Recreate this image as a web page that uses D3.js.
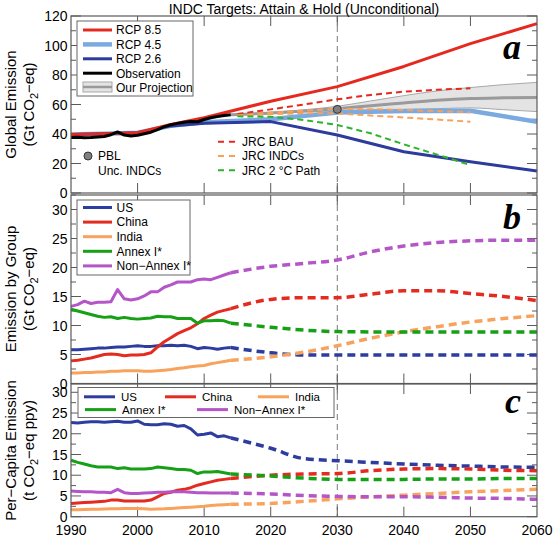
<!DOCTYPE html>
<html><head><meta charset="utf-8">
<script src="https://cdn.jsdelivr.net/npm/d3@7"></script>
<style>body{margin:0;background:#fff}text{font-family:"Liberation Sans",Arial,Helvetica,sans-serif;fill:#000}</style>
</head><body><svg id="c" width="553" height="538"></svg>
<script>
// ---------- DATA ----------
const histYears = d3.range(1990, 2015);
const obs = [37.7,37.8,37.4,37.6,38.0,38.3,39.5,41.4,39.3,38.7,39.2,40.2,41.2,43.0,45.0,46.3,47.2,48.0,48.5,48.3,49.8,51.0,51.8,52.5,53.0];

const rcpYears = [1990,1995,2000,2005,2010,2020,2030,2040,2050,2060];
const rcp85 = [39.6,40.2,40.8,46.5,51.0,62.2,72.1,85.8,101.3,114.8];
const rcp45 = [39.6,40.2,40.8,45.5,48.0,50.0,54.5,55.6,55.8,48.3];
const rcp26 = [39.6,40.2,40.8,45.5,47.3,48.4,39.3,28.0,21.2,14.9];

const projYears = [2014,2020,2025,2030,2035,2040,2045,2050,2055,2060];
const projMid = [53.0,54.2,55.6,57.2,59.2,61.0,62.8,64.0,64.5,64.8];
const projLow = [53.0,53.8,54.9,55.8,56.3,56.6,57.2,57.7,56.5,55.2];
const projHigh = [53.0,54.5,56.4,58.8,62.4,66.0,69.2,71.5,73.5,75.0];

const pblYear = 2030, pblValue = 56.7;

const jrcYears = [2015,2020,2025,2030,2035,2040,2045,2050];
const jrcBAU = [53.5,56.7,60.0,63.5,66.5,68.7,70.0,71.0];
const jrcINDCHigh = [52.5,54.5,55.8,57.0,56.8,56.3,55.5,54.7];
const jrcINDCLow = [52.5,53.5,54.0,54.0,52.5,51.2,49.8,48.3];
const jrc2C = [52.0,51.7,49.5,46.1,40.5,33.0,26.0,19.0];

const futYears = [2014,2020,2025,2030,2035,2040,2045,2050,2055,2060];

// panel b: emission by group (Gt CO2-eq)
const bUS = [5.8,5.8,5.9,6.0,6.1,6.1,6.2,6.3,6.3,6.4,6.5,6.4,6.4,6.5,6.5,6.6,6.5,6.6,6.4,6.0,6.2,6.1,5.9,6.1,6.2];
const bChina = [3.9,4.0,4.2,4.4,4.7,5.0,5.1,5.0,4.8,4.9,4.9,5.0,5.3,6.3,7.2,7.9,8.6,9.1,9.6,10.3,11.2,11.8,12.3,12.6,12.9];
const bIndia = [1.8,1.8,1.9,1.9,2.0,2.0,2.1,2.1,2.2,2.2,2.2,2.1,2.1,2.2,2.3,2.4,2.6,2.7,2.9,3.0,3.1,3.4,3.6,3.8,4.0];
const bAnnex = [12.8,12.5,12.2,11.9,11.6,11.4,11.5,11.2,11.4,11.2,11.1,11.2,11.3,11.6,11.5,11.5,11.2,11.2,11.2,10.4,10.8,10.8,10.9,10.8,10.4];
const bNonAnnex = [13.3,13.6,14.2,13.8,14.0,14.0,14.1,16.2,14.6,14.4,14.6,15.1,15.8,15.8,16.6,17.0,17.5,17.5,17.5,17.9,18.0,17.9,18.3,18.7,19.1];
const bUSf = [6.2,5.3,4.9,4.9,4.9,4.9,4.9,4.9,4.9,4.9];
const bChinaf = [12.9,14.5,14.8,14.8,15.4,16.0,16.0,15.5,15.0,14.3];
const bIndiaf = [4.0,4.6,5.4,6.5,7.8,8.9,9.8,10.6,11.2,11.7];
const bAnnexf = [10.4,9.7,9.2,8.95,8.9,8.9,8.9,8.9,8.9,8.9];
const bNonAnnexf = [19.1,20.2,20.7,21.3,22.7,23.7,24.3,24.6,24.7,24.7];

// panel c: per-capita emission (t CO2-eq ppy)
const cUS = [22.7,22.6,22.8,22.9,22.9,22.8,22.9,23.0,22.8,22.8,23.1,22.3,22.2,22.2,22.4,22.3,21.8,22.0,21.2,19.7,19.9,20.2,19.3,19.5,19.0];
const cChina = [3.2,3.3,3.4,3.5,3.6,3.7,4.0,4.0,3.8,3.8,3.8,3.8,4.0,4.8,5.6,5.9,6.4,6.6,7.0,7.6,8.0,8.4,8.8,9.0,9.2];
const cIndia = [1.7,1.7,1.75,1.8,1.8,1.85,1.9,1.9,1.95,2.0,2.0,1.9,1.8,1.85,1.9,2.0,2.1,2.2,2.3,2.4,2.5,2.7,2.8,2.9,3.0];
const cAnnex = [13.6,13.1,12.7,12.3,12.0,12.0,12.0,11.6,11.8,11.5,11.5,11.5,11.6,12.0,11.8,11.6,11.4,11.4,11.2,10.4,10.8,10.8,10.9,10.6,10.3];
const cNonAnnex = [6.2,6.1,6.0,6.0,5.9,5.9,5.8,6.6,5.8,5.6,5.6,5.7,5.8,5.9,5.9,6.0,6.0,6.0,5.9,5.8,5.8,5.7,5.7,5.7,5.7];
const cUSf = [19.0,16.5,14.0,13.5,13.1,12.7,12.4,12.2,12.0,11.9];
const cChinaf = [9.2,10.0,10.3,10.4,11.1,11.5,11.6,11.5,11.2,11.1];
const cIndiaf = [3.0,3.2,3.7,4.3,4.8,5.2,5.6,6.0,6.3,6.6];
const cAnnexf = [10.3,9.8,9.3,9.0,9.0,9.0,9.1,9.1,9.2,9.2];
const cNonAnnexf = [5.7,5.5,5.1,4.9,4.8,4.8,4.7,4.5,4.4,4.2];

const xTicks = [1990,2000,2010,2020,2030,2040,2050,2060];
const aTicks = [0,20,40,60,80,100,120];
const bTicks = [0,5,10,15,20,25,30];
const cTicks = [0,5,10,15,20,25,30];

// ---------- STYLE ----------
const C = {red:"#e5291f", lblue:"#7aaadf", dblue:"#2c3b9c", green:"#2ab42a", orange:"#f8a15a",
  gUS:"#2d3d9f", gChina:"#e42b20", gIndia:"#f8a35d", gAnnex:"#16a016", gNon:"#b556c8", frame:"#5a5a5a"};

const svg = d3.select("#c");
const x = d3.scaleLinear().domain([1990,2060]).range([71,537]);
const X0 = 71, X1 = 537;

function panel(y, top, bottom, majors, minorStep, maxV) {
  const g = svg.append("g");
  g.append("line").attr("x1", x(2030)).attr("x2", x(2030)).attr("y1", top).attr("y2", bottom)
    .attr("stroke", "#7a7a7a").attr("stroke-width", 1).attr("stroke-dasharray", "6,4");
  const minors = d3.range(0, maxV + 0.001, minorStep).filter(v => !majors.includes(v));
  majors.forEach(v => {
    g.append("line").attr("x1", X0).attr("x2", X0 + 10).attr("y1", y(v)).attr("y2", y(v)).attr("stroke", C.frame);
    g.append("line").attr("x1", X1).attr("x2", X1 - 10).attr("y1", y(v)).attr("y2", y(v)).attr("stroke", C.frame);
    g.append("text").attr("x", 67.5).attr("y", y(v)).attr("dy", "0.36em").attr("text-anchor", "end")
      .attr("font-size", 14).text(v);
  });
  minors.forEach(v => {
    g.append("line").attr("x1", X0).attr("x2", X0 + 5).attr("y1", y(v)).attr("y2", y(v)).attr("stroke", C.frame);
    g.append("line").attr("x1", X1).attr("x2", X1 - 5).attr("y1", y(v)).attr("y2", y(v)).attr("stroke", C.frame);
  });
  xTicks.slice(1, -1).forEach(t => {
    g.append("line").attr("x1", x(t)).attr("x2", x(t)).attr("y1", top).attr("y2", top + 10).attr("stroke", C.frame);
    g.append("line").attr("x1", x(t)).attr("x2", x(t)).attr("y1", bottom).attr("y2", bottom - 10).attr("stroke", C.frame);
  });
  return g;
}
function frame(top, bottom) {
  svg.append("rect").attr("x", X0).attr("y", top).attr("width", X1 - X0).attr("height", bottom - top)
    .attr("fill", "none").attr("stroke", C.frame).attr("stroke-width", 1.2);
}
let curY;
function path(g, xs, ys, color, w, dash, curve) {
  const line = d3.line().x((d, i) => x(xs[i])).y(d => curY(d)).curve(curve || d3.curveLinear);
  const p = g.append("path").attr("d", line(ys)).attr("fill", "none").attr("stroke", color)
    .attr("stroke-width", w).attr("stroke-linejoin", "round");
  if (dash) p.attr("stroke-dasharray", dash);
  return p;
}
function ylabel(cy, l1, pre, post, x1, x2) {
  svg.append("text").attr("transform", `translate(${x1},${cy}) rotate(-90)`).attr("text-anchor", "middle")
    .attr("font-size", 15).text(l1);
  const t = svg.append("text").attr("transform", `translate(${x2},${cy}) rotate(-90)`).attr("text-anchor", "middle")
    .attr("font-size", 15);
  t.append("tspan").text(pre);
  t.append("tspan").attr("font-size", 11).attr("dy", 4).text("2");
  t.append("tspan").attr("dy", -4).text(post);
}
function letter(t, yb) {
  svg.append("text").attr("x", 521).attr("y", yb).attr("text-anchor", "end")
    .attr("font-weight", "bold").attr("font-style", "italic").attr("font-size", 36)
    .style("font-family", "'Liberation Serif','Times New Roman',serif").text(t);
}

// ---------- PANEL A ----------
const ya = d3.scaleLinear().domain([0,120]).range([193,16]);
const ga = panel(ya, 16, 193, aTicks, 10, 120);
curY = ya;
const area = d3.area().x((d, i) => x(projYears[i])).y0((d, i) => ya(projLow[i])).y1(d => ya(d)).curve(d3.curveMonotoneX);
ga.append("path").attr("d", area(projHigh)).attr("fill", "#e4e4e4").attr("stroke", "none");
path(ga, projYears, projHigh, "#a8a8a8", 1, null, d3.curveMonotoneX);
path(ga, projYears, projLow, "#a8a8a8", 1, null, d3.curveMonotoneX);
path(ga, projYears, projMid, "#9a9a9a", 3, null, d3.curveMonotoneX);
path(ga, rcpYears, rcp45, C.lblue, 4.5);
path(ga, rcpYears, rcp26, C.dblue, 3);
path(ga, rcpYears, rcp85, C.red, 3);
path(ga, jrcYears, jrcBAU, C.red, 2, "6,4");
path(ga, jrcYears, jrcINDCHigh, C.orange, 2, "6,4");
path(ga, jrcYears, jrcINDCLow, C.orange, 2, "6,4");
path(ga, jrcYears, jrc2C, C.green, 2, "6,4");
path(ga, histYears, obs, "#000", 3);
ga.append("circle").attr("cx", x(pblYear)).attr("cy", ya(pblValue)).attr("r", 4)
  .attr("fill", "#808080").attr("stroke", "#333").attr("stroke-width", 1);
frame(16, 193);

// legend a
const la = svg.append("g");
la.append("rect").attr("x", 77).attr("y", 21).attr("width", 116).attr("height", 75).attr("fill", "#fff").attr("stroke", "#666");
const laItems = [["RCP 8.5", C.red, 3], ["RCP 4.5", C.lblue, 4.5], ["RCP 2.6", C.dblue, 3], ["Observation", "#000", 3]];
laItems.forEach((d, i) => {
  const yy = 30 + i * 14.4;
  la.append("line").attr("x1", 83).attr("x2", 112).attr("y1", yy).attr("y2", yy).attr("stroke", d[1]).attr("stroke-width", d[2]);
  la.append("text").attr("x", 116).attr("y", yy).attr("dy", "0.36em").attr("font-size", 12).text(d[0]);
});
la.append("rect").attr("x", 83).attr("y", 82).attr("width", 29).attr("height", 10).attr("fill", "#e4e4e4").attr("stroke", "#a8a8a8");
la.append("line").attr("x1", 83).attr("x2", 112).attr("y1", 87).attr("y2", 87).attr("stroke", "#9a9a9a").attr("stroke-width", 2.5);
la.append("text").attr("x", 116).attr("y", 87.5).attr("dy", "0.36em").attr("font-size", 12).text("Our Projection");
la.append("circle").attr("cx", 88).attr("cy", 156).attr("r", 4).attr("fill", "#808080").attr("stroke", "#333");
la.append("text").attr("x", 98).attr("y", 156).attr("dy", "0.36em").attr("font-size", 12).text("PBL");
la.append("text").attr("x", 98).attr("y", 170.5).attr("dy", "0.36em").attr("font-size", 12).text("Unc. INDCs");
[["JRC BAU", C.red], ["JRC INDCs", C.orange], ["JRC 2 \u00B0C Path", C.green]].forEach((d, i) => {
  const yy = 141.7 + i * 14.3;
  la.append("line").attr("x1", 218).attr("x2", 236).attr("y1", yy).attr("y2", yy).attr("stroke", d[1])
    .attr("stroke-width", 2).attr("stroke-dasharray", "6,5");
  la.append("text").attr("x", 242).attr("y", yy).attr("dy", "0.36em").attr("font-size", 12).text(d[0]);
});

// ---------- PANEL B ----------
const yb = d3.scaleLinear().domain([0,32.5]).range([383.5,195]);
const gb = panel(yb, 195, 383.5, bTicks, 2.5, 32.5);
curY = yb;
const dashF = "8,5";
[[bUS,bUSf,C.gUS],[bChina,bChinaf,C.gChina],[bIndia,bIndiaf,C.gIndia],[bAnnex,bAnnexf,C.gAnnex],[bNonAnnex,bNonAnnexf,C.gNon]].forEach(s => {
  path(gb, histYears, s[0], s[2], 3);
  path(gb, futYears, s[1], s[2], 3.5, dashF, d3.curveMonotoneX);
});
frame(195, 383.5);
const lb = svg.append("g");
lb.append("rect").attr("x", 77).attr("y", 200).attr("width", 113).attr("height", 75).attr("fill", "#fff").attr("stroke", "#666");
[["US", C.gUS], ["China", C.gChina], ["India", C.gIndia], ["Annex I*", C.gAnnex], ["Non\u2212Annex I*", C.gNon]].forEach((d, i) => {
  const yy = 207.5 + i * 14.6;
  lb.append("line").attr("x1", 83).attr("x2", 112).attr("y1", yy).attr("y2", yy).attr("stroke", d[1]).attr("stroke-width", 3);
  lb.append("text").attr("x", 116.5).attr("y", yy).attr("dy", "0.36em").attr("font-size", 12).text(d[0]);
});

// ---------- PANEL C ----------
const yc = d3.scaleLinear().domain([0,32]).range([516.7,384]);
const gc = panel(yc, 384, 516.7, cTicks, 2.5, 32);
curY = yc;
[[cUS,cUSf,C.gUS],[cChina,cChinaf,C.gChina],[cIndia,cIndiaf,C.gIndia],[cAnnex,cAnnexf,C.gAnnex],[cNonAnnex,cNonAnnexf,C.gNon]].forEach(s => {
  path(gc, histYears, s[0], s[2], 3);
  path(gc, futYears, s[1], s[2], 3.5, dashF, d3.curveMonotoneX);
});
frame(384, 516.7);
const lc = svg.append("g");
lc.append("rect").attr("x", 78).attr("y", 387.5).attr("width", 256).attr("height", 30).attr("fill", "#fff").attr("stroke", "#666");
[["US", C.gUS, 84, 396.8], ["China", C.gChina, 165, 396.8], ["India", C.gIndia, 258, 396.8],
 ["Annex I*", C.gAnnex, 85, 409.6], ["Non\u2212Annex I*", C.gNon, 197, 409.6]].forEach(d => {
  lc.append("line").attr("x1", d[2]).attr("x2", d[2] + 31).attr("y1", d[3]).attr("y2", d[3]).attr("stroke", d[1]).attr("stroke-width", 3);
  lc.append("text").attr("x", d[2] + 37).attr("y", d[3]).attr("dy", "0.35em").attr("font-size", 11.5).text(d[0]);
});

xTicks.forEach(t => svg.append("text").attr("x", x(t)).attr("y", 535).attr("text-anchor", "middle").attr("font-size", 14).text(t));

ylabel(104.5, "Global Emission", "(Gt CO", "\u2212eq)", 16, 34);
ylabel(289, "Emission by Group", "(Gt CO", "\u2212eq)", 16, 34);
ylabel(450.5, "Per\u2212Capita Emission", "(t CO", "\u2212eq ppy)", 16, 34);
letter("a", 59); letter("b", 229); letter("c", 413);
svg.append("text").attr("x", 304).attr("y", 14).attr("text-anchor", "middle").attr("font-size", 14)
  .text("INDC Targets: Attain & Hold (Unconditional)");
</script></body></html>
